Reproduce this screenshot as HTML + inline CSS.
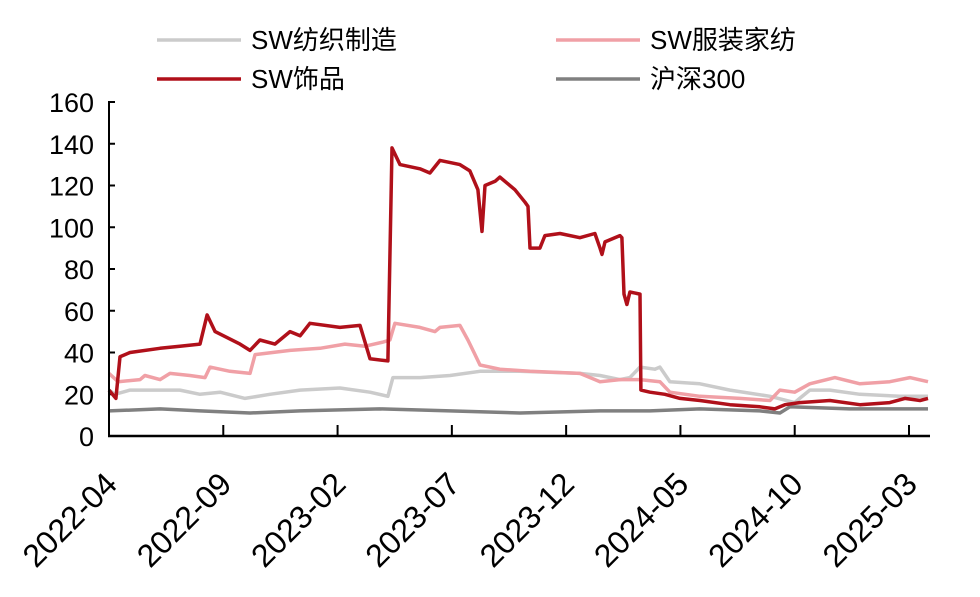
<!DOCTYPE html>
<html><head><meta charset="utf-8"><style>
body{margin:0;background:#fff;}
svg{display:block;font-family:"Liberation Sans","Noto Sans CJK SC",sans-serif;}
</style></head><body>
<svg id="chart" width="980" height="597"></svg>
<script>
const yTicks=[0,20,40,60,80,100,120,140,160];
const xLabels=["2022-04","2022-09","2023-02","2023-07","2023-12","2024-05","2024-10","2025-03"];
const xLabelMonths=[0,5,10,15,20,25,30,35];
const seriesNames=["SW纺织制造","SW服装家纺","SW饰品","沪深300"];
const textileM=[0,0.26,0.92,3.1,3.98,4.86,5.95,7.04,8.36,10.1,11.42,12.2,12.42,13.6,14.92,16.23,17.98,20.6,21.48,22.35,22.79,23.23,23.88,24.1,24.54,25.85,27.17,28.92,30.0,30.22,30.66,31.54,32.85,34.6,35.48,35.83];
const textileV=[22,20,22,22,20,21,18,20,22,23,21,19,28,28,29,31,31,30,29,27,28,33,32,33,26,25,22,19,16,18,22,22,20,19,19,19];
const apparelM=[0,0.4,1.36,1.57,2.23,2.67,3.54,4.2,4.42,5.29,6.17,6.39,7.92,9.23,10.32,11.2,11.99,12.29,12.51,13.6,14.26,14.48,15.35,15.7,15.97,16.23,17.1,18.42,20.6,21.48,22.35,23.23,24.1,24.54,25.85,27.6,28.92,29.35,30.0,30.66,31.76,32.85,34.16,35.04,35.83];
const apparelV=[30,26,27,29,27,30,29,28,33,31,30,39,41,42,44,43,45,46,54,52,50,52,53,46,40,34,32,31,30,26,27,27,26,21,19,18,17,22,21,25,28,25,26,28,26];
const jewelryM=[0,0.3,0.48,0.92,2.23,3.1,3.98,4.29,4.64,5.73,6.17,6.6,7.26,7.92,8.36,8.79,10.1,10.98,11.42,12.2,12.38,12.73,13.6,14.04,14.48,15.35,15.79,16.14,16.32,16.45,16.89,17.1,17.76,18.2,18.33,18.42,18.85,19.07,19.73,20.6,21.26,21.48,21.57,21.7,22.35,22.44,22.53,22.66,22.79,23.23,23.27,23.67,24.32,24.98,25.85,27.17,28.48,29.13,29.57,30.22,31.54,32.85,34.16,34.82,35.48,35.83];
const jewelryV=[22,18,38,40,42,43,44,58,50,44,41,46,44,50,48,54,52,53,37,36,138,130,128,126,132,130,127,118,98,120,122,124,118,112,110,90,90,96,97,95,97,90,87,93,96,95,68,63,69,68,22,21,20,18,17,15,14,13,15,16,17,15,16,18,17,18];
const hsM=[0,2.23,3.98,6.17,8.36,11.85,14.92,17.98,21.48,23.67,25.85,28.48,29.35,29.79,32.4,35.83];
const hsV=[12,13,12,11,12,13,12,11,12,12,13,12,11,14,13,13];

const svg=document.getElementById('chart');
const NS='http://www.w3.org/2000/svg';
const X0=109,X1=930,Y0=436,Y1=102,MPX=(909-109)/35;
const xs=m=>X0+m*MPX;
const ys=v=>Y0-(v/160)*(Y0-Y1);
function mk(tag,attrs){const e=document.createElementNS(NS,tag);for(const k in attrs)e.setAttribute(k,attrs[k]);svg.appendChild(e);return e;}

yTicks.forEach(t=>{
  const y=ys(t);
  const l=mk('line',{x1:X0,x2:X0+6,y1:y,y2:y,stroke:'#000','stroke-width':2});
  
  
  const tx=mk('text',{x:94,y:y+10,'text-anchor':'end','font-size':27,fill:'#000'});
  tx.textContent=t;
  
  
});
xLabelMonths.forEach((m,i)=>{
  const x=xs(m);
  if(i>0){const l=mk('line',{x1:x,x2:x,y1:Y0,y2:Y0-11,stroke:'#000','stroke-width':2});
  
  }
  const ax=x+10, ay=486;
  const tx=mk('text',{x:ax,y:ay,'text-anchor':'end','font-size':32,fill:'#000',transform:`rotate(-45 ${ax} ${ay})`});
  tx.textContent=xLabels[i];
  
  
});

function series(M,V,color,w,name){
  const d=M.map((m,i)=>(i?'L':'M')+xs(m).toFixed(1)+' '+ys(V[i]).toFixed(1)).join(' ');
  const p=mk('path',{d,fill:'none',stroke:color,'stroke-width':w,'stroke-linejoin':'round'});
  
  
}
series(hsM,hsV,'#808080',3.5,'hs300-line');
series(textileM,textileV,'#cbcbcb',3.5,'textile-line');
series(apparelM,apparelV,'#f0a0a6',3.5,'apparel-line');
series(jewelryM,jewelryV,'#b0101a',3.5,'jewelry-line');

const ax1=mk('line',{x1:X0,x2:X0,y1:Y1-1,y2:Y0+1,stroke:'#000','stroke-width':2});


const ax2=mk('line',{x1:X0-1,x2:X1,y1:Y0,y2:Y0,stroke:'#000','stroke-width':2.5});



const legColors=['#cbcbcb','#f0a0a6','#b0101a','#808080'];
const legPos=[[157,40],[556,40],[157,79],[556,79]];
seriesNames.forEach((n,i)=>{
  const [lx,ly]=legPos[i];
  const l=mk('line',{x1:lx,x2:lx+84,y1:ly,y2:ly,stroke:legColors[i],'stroke-width':3.5});
  
  
  const t=mk('text',{x:lx+94,y:ly+9,'font-size':26,fill:'#000'});
  t.textContent=n;
  
  
});
</script>
</body></html>
